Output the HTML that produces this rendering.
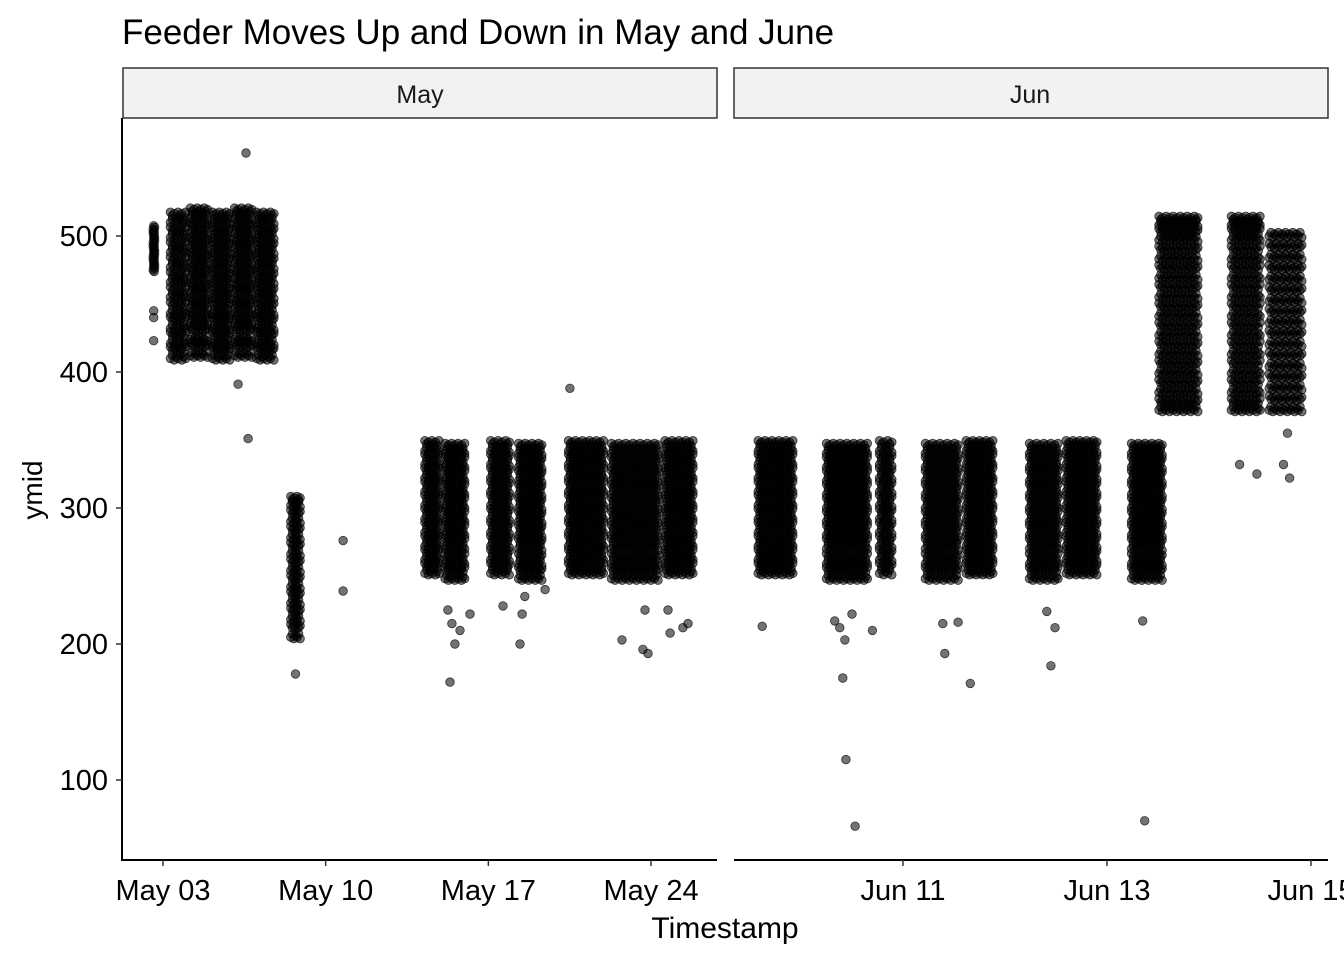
<!DOCTYPE html>
<html><head><meta charset="utf-8"><style>
html,body{margin:0;padding:0;background:#fff}
svg{display:block;font-family:"Liberation Sans",Arial,sans-serif}
</style></head><body>
<svg id="chart" width="1344" height="960" viewBox="0 0 1344 960">
<rect width="1344" height="960" fill="#fff"/>
<text x="122" y="44" font-size="35" fill="#000">Feeder Moves Up and Down in May and June</text>
<rect x="123" y="68" width="594" height="50" fill="#f2f2f2" stroke="#333" stroke-width="1.5"/>
<text x="420" y="103" font-size="25" text-anchor="middle" fill="#1a1a1a">May</text>
<rect x="734" y="68" width="594" height="50" fill="#f2f2f2" stroke="#333" stroke-width="1.5"/>
<text x="1030" y="103" font-size="25" text-anchor="middle" fill="#1a1a1a">Jun</text>
<g id="pts"></g>
<g id="axes"></g>
<text x="725" y="938" font-size="30" text-anchor="middle">Timestamp</text>
<text transform="translate(42,490) rotate(-90)" font-size="28" text-anchor="middle">ymid</text>
</svg>
<script>
const yTicks=[100,200,300,400,500];
const mayTickDays=[3,10,17,24];
const mayTickLabels=["May 03","May 10","May 17","May 24"];
const junTickDays=[11,13,15];
const junTickLabels=["Jun 11","Jun 13","Jun 15"];
const yHi=[410,416,421,427,432,438,443,449,455,460,466,471,477,482,488,493,499,504,510,515];
const yHiB=[412,419,424,431,436,441,447,452,458,463,469,474,480,485,491,496,502,507,513,518];
const yLo=[252,257,262,267,272,277,282,287,292,297,302,307,312,317,322,327,332,337,342,347];
const yLoB=[248,254,259,264,270,275,280,285,290,295,300,305,310,315,320,325,330,335,340,345];
const yJ3=[372,380,388,396,404,412,420,428,436,444,452,460,468,476,484,492,500];
const yJ1=[372,378,385,392,399,406,413,420,427,434,441,448,455,462,469,476,483,490,497,503,508,512];
const yMay8=[205,212,218,224,230,236,242,248,254,260,266,272,278,284,290,296,302,306];
const yMay2=[475,480,485,490,495,500,505];
const colPanel=["may","may","may","may","may","may","may","may","may","may","may","may","may","may","jun","jun","jun","jun","jun","jun","jun","jun","jun","jun","jun"];
const colDay=[2.6,3.65,4.55,5.5,6.45,7.4,8.7,14.57,15.56,17.5,18.8,21.2,23.3,25.2,9.75,10.45,10.83,11.38,11.75,12.38,12.75,13.39,13.7,14.36,14.75];
const colHw=[0.02,0.33,0.37,0.37,0.37,0.37,0.2,0.3,0.42,0.4,0.5,0.75,1.0,0.6,0.17,0.2,0.06,0.16,0.13,0.14,0.15,0.15,0.19,0.14,0.16];
const colYs=[yMay2,yHi,yHiB,yHi,yHiB,yHi,yMay8,yLo,yLoB,yLo,yLoB,yLo,yLoB,yLo,yLo,yLoB,yLo,yLoB,yLo,yLoB,yLo,yLoB,yJ1,yJ1,yJ3];
const outPanel=["may","may","may","may","may","may","may","may","may","may","may","may","may","may","may","may","may","may","may","may","may","may","may","may","may","may","may","may","may","jun","jun","jun","jun","jun","jun","jun","jun","jun","jun","jun","jun","jun","jun","jun","jun","jun","jun","jun","jun","jun","jun","jun"];
const outDay=[10.75,10.75,6.23,6.66,6.57,15.35,15.56,15.43,15.78,15.26,16.21,17.63,18.36,18.57,18.45,19.44,20.51,22.75,23.74,23.65,23.87,24.73,24.82,25.37,25.59,2.6,2.6,2.6,8.7,9.62,10.33,10.38,10.43,10.5,10.7,10.41,10.44,10.53,11.39,11.54,11.41,11.66,12.41,12.49,12.45,13.35,13.37,14.3,14.47,14.73,14.79,14.77];
const outY=[276,239,391,351,561,172,200,215,210,225,222,228,200,235,222,240,388,203,225,196,193,225,208,212,215,440,445,423,178,213,217,212,203,222,210,175,115,66,215,216,193,171,224,212,184,217,70,332,325,332,322,355];
const yS=v=>236+(500-v)*1.36;
const xMay=d=>163+(d-3)*23.24;
const xJun=d=>903+(d-11)*102;
const NS="http://www.w3.org/2000/svg";
const pts=document.getElementById('pts');
function dot(x,y){const c=document.createElementNS(NS,'circle');
c.setAttribute('cx',x.toFixed(1));c.setAttribute('cy',y.toFixed(1));c.setAttribute('r','4.3');
c.setAttribute('fill','rgba(0,0,0,0.55)');c.setAttribute('stroke','rgba(0,0,0,0.7)');c.setAttribute('stroke-width','0.8');


pts.appendChild(c);}
for(let k=0;k<colDay.length;k++){
 const xf=colPanel[k]==="may"?xMay:xJun;
 const x0=xf(colDay[k]-colHw[k]),x1=xf(colDay[k]+colHw[k]);
 const w=x1-x0;const n=Math.max(1,Math.round(w/3.5));const step=w/n;
 colYs[k].forEach((v,i)=>{
  for(let r=0;r<2;r++){
   for(let j=0;j<=n;j++){const x=x0+j*step+(((i+r)%2)?step/2:0);if(x>x1+1)continue;
    dot(x,yS(v)-r*3.4+((j%2)?1.5:0));}
  }
 });
}
for(let i=0;i<outDay.length;i++){const xf=outPanel[i]==="may"?xMay:xJun;dot(xf(outDay[i]),yS(outY[i]));}
const ax=document.getElementById('axes');
function el(tag,attrs,name,text){const e=document.createElementNS(NS,tag);for(const a in attrs)e.setAttribute(a,attrs[a]);


if(text)e.textContent=text;ax.appendChild(e);return e;}
el('line',{x1:122,y1:118,x2:122,y2:861,stroke:'#000','stroke-width':2},'y-axis-line');
el('line',{x1:121,y1:860,x2:717,y2:860,stroke:'#000','stroke-width':2},'x-axis-line-may');
el('line',{x1:734,y1:860,x2:1328,y2:860,stroke:'#000','stroke-width':2},'x-axis-line-jun');
yTicks.forEach(v=>{const y=yS(v);
 el('line',{x1:116,y1:y,x2:122,y2:y,stroke:'#333','stroke-width':1.5},'y-tick');
 el('text',{x:108,y:y+10,'font-size':29,'text-anchor':'end',fill:'#000'},'y-tick-label',String(v));});
mayTickDays.forEach((d,i)=>{const x=xMay(d);
 el('line',{x1:x,y1:860,x2:x,y2:866,stroke:'#333','stroke-width':1.5},'x-tick-may');
 el('text',{x:x,y:900,'font-size':29,'text-anchor':'middle',fill:'#000'},'x-tick-label-may',mayTickLabels[i]);});
junTickDays.forEach((d,i)=>{const x=xJun(d);
 el('line',{x1:x,y1:860,x2:x,y2:866,stroke:'#333','stroke-width':1.5},'x-tick-jun');
 el('text',{x:x,y:900,'font-size':29,'text-anchor':'middle',fill:'#000'},'x-tick-label-jun',junTickLabels[i]);});
</script>
</body></html>
